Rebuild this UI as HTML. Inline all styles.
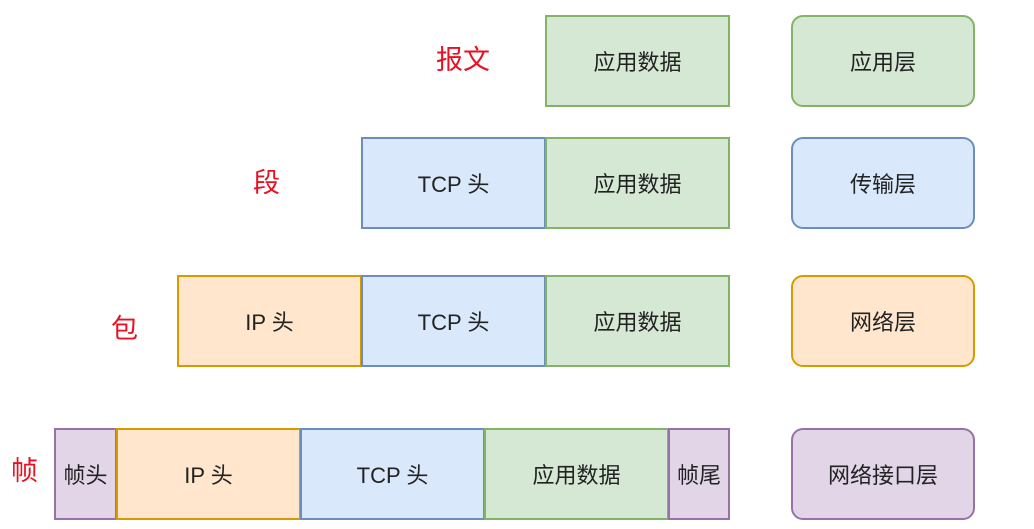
<!DOCTYPE html>
<html><head><meta charset="utf-8"><style>
body{margin:0;width:1034px;height:529px;background:#fff;position:relative;overflow:hidden;font-family:"Liberation Sans","Noto Sans CJK SC",sans-serif;}
.b{position:absolute;box-sizing:border-box;border:2px solid;display:flex;align-items:center;justify-content:center;font-size:22px;color:#222;}
.g{background:#d5e8d4;border-color:#82b366}
.u{background:#dae8fc;border-color:#6c8ebf}
.o{background:#ffe6cc;border-color:#d79b00}
.p{background:#e1d5e7;border-color:#9673a6}
.r{border-radius:12px}
.l{position:absolute;color:#e81123;font-size:27px;line-height:1;}
</style></head><body>
<div class="l" style="left:436px;top:47px">报文</div>
<div class="l" style="left:253px;top:170px">段</div>
<div class="l" style="left:111px;top:316px">包</div>
<div class="l" style="left:11px;top:458px">帧</div>

<div class="b g" style="left:545px;top:15px;width:185px;height:92px">应用数据</div>
<div class="b g r" style="left:791px;top:15px;width:184px;height:92px">应用层</div>

<div class="b u" style="left:361px;top:137px;width:185px;height:92px">TCP 头</div>
<div class="b g" style="left:545px;top:137px;width:185px;height:92px">应用数据</div>
<div class="b u r" style="left:791px;top:137px;width:184px;height:92px">传输层</div>

<div class="b o" style="left:177px;top:275px;width:185px;height:92px">IP 头</div>
<div class="b u" style="left:361px;top:275px;width:185px;height:92px">TCP 头</div>
<div class="b g" style="left:545px;top:275px;width:185px;height:92px">应用数据</div>
<div class="b o r" style="left:791px;top:275px;width:184px;height:92px">网络层</div>

<div class="b p" style="left:54px;top:428px;width:63px;height:92px">帧头</div>
<div class="b o" style="left:116px;top:428px;width:185px;height:92px">IP 头</div>
<div class="b u" style="left:300px;top:428px;width:185px;height:92px">TCP 头</div>
<div class="b g" style="left:484px;top:428px;width:185px;height:92px">应用数据</div>
<div class="b p" style="left:668px;top:428px;width:62px;height:92px">帧尾</div>
<div class="b p r" style="left:791px;top:428px;width:184px;height:92px">网络接口层</div>
</body></html>
